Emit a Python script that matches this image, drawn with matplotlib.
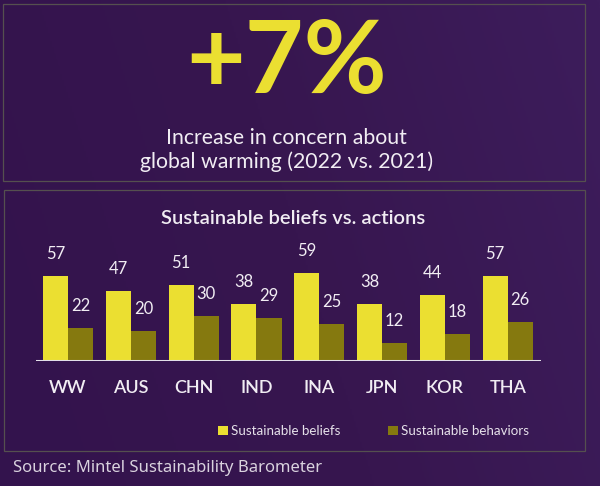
import numpy as np
import matplotlib.pyplot as plt
from matplotlib.patches import Rectangle
from matplotlib.colors import LinearSegmentedColormap

countries = ["WW", "AUS", "CHN", "IND", "INA", "JPN", "KOR", "THA"]
beliefs = [57, 47, 51, 38, 59, 38, 44, 57]
behaviors = [22, 20, 30, 29, 25, 12, 18, 26]

YELLOW = "#ebdf31"
OLIVE = "#85790f"
TXT = "#f1edf3"

fig = plt.figure(figsize=(6, 4.86), dpi=100)

# background with soft gradient
bg = fig.add_axes([0, 0, 1, 1])
gx = np.linspace(0, 1, 300)
gy = np.linspace(0, 1, 240)
X, Y = np.meshgrid(gx, gy)
grad = np.clip(X * 0.8 + (1 - Y) * 0.2, 0, 1)
cmap = LinearSegmentedColormap.from_list("bg", ["#33134d", "#37164f", "#3d1d5c"])
bg.imshow(grad, cmap=cmap, aspect="auto", extent=[0, 1, 0, 1], origin="upper")
bg.set_xlim(0, 1)
bg.set_ylim(0, 1)
bg.axis("off")

# box outlines
W, H = 600.0, 486.0
for (x0, y0, x1, y1) in [(3, 4, 585, 181), (4, 190, 585, 451)]:
    bg.add_patch(Rectangle((x0 / W, 1 - y1 / H), (x1 - x0) / W, (y1 - y0) / H,
                           fill=False, ec="#55504f", lw=0.9))

# headline
fig.text(0.478, 0.8086, "+7%", color=YELLOW, fontsize=73, fontweight="bold",
         family="Lato", ha="center", va="baseline")
fig.text(0.478, 0.7037, "Increase in concern about", color=TXT, fontsize=15.3,
         family="Lato", ha="center", va="baseline")
fig.text(0.478, 0.654, "global warming (2022 vs. 2021)", color=TXT, fontsize=15.3,
         family="Lato", ha="center", va="baseline")

fig.text(0.488, 0.539, "Sustainable beliefs vs. actions", color=TXT, fontsize=14.5,
         family="Lato", fontweight="semibold", ha="center", va="baseline")

# bars
ax = fig.add_axes([0.06, 0.2572, 0.8417, 0.3086])
ax.set_facecolor("none")
x = np.arange(len(countries))
w = 0.4
b1 = ax.bar(x - w / 2, beliefs, w, color=YELLOW, label="Sustainable beliefs")
b2 = ax.bar(x + w / 2, behaviors, w, color=OLIVE, label="Sustainable behaviors")
ax.set_xlim(-0.51, 7.53)
ax.set_ylim(0, 100)
ax.axhline(0, color="#e2dfe8", lw=2.2, zorder=5)
for s in ax.spines.values():
    s.set_visible(False)
ax.set_xticks([])
ax.set_yticks([])

for bars, vals in [(b1, beliefs), (b2, behaviors)]:
    for r, v in zip(bars, vals):
        ax.annotate(str(v), (r.get_x() + r.get_width() / 2, v), xytext=(0, 12),
                    textcoords="offset points", ha="center", va="baseline",
                    color=TXT, fontsize=12, family="Lato", annotation_clip=False)

for i, c in enumerate(countries):
    ax.annotate(c, (i, 0), xytext=(0, -23), textcoords="offset points",
                ha="center", va="baseline", color=TXT, fontsize=13,
                family="Lato", fontweight="semibold", annotation_clip=False)

fig.legend(handles=[b1, b2], labels=["Sustainable beliefs", "Sustainable behaviors"],
           loc="center", bbox_to_anchor=(0.622, 0.113), ncol=2, frameon=False,
           handlelength=0.75, handleheight=0.75, handletextpad=0.2,
           columnspacing=3.6, labelcolor="#e6e1ea", prop={"family": "Lato", "size": 9.6})

fig.text(0.022, 0.037, "Source: Mintel Sustainability Barometer", color="#d9d2de",
         fontsize=12, family="Noto Sans", ha="left", va="center")

fig.savefig("out.png", dpi=100, facecolor=fig.get_facecolor())
